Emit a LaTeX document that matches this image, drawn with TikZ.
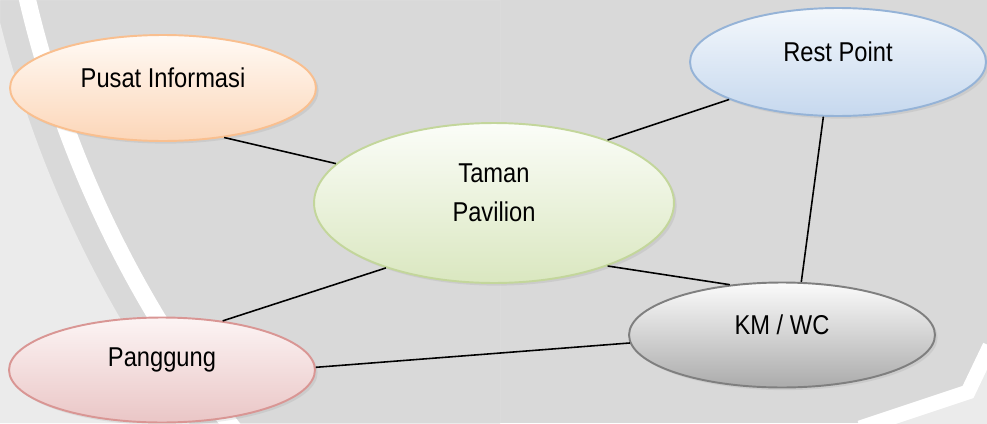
\documentclass[tikz,border=0pt]{standalone}
\usepackage{fontspec}
\setmainfont{Liberation Sans}
\newfontfamily\lblfont[FakeStretch=0.87]{Liberation Sans}
\usetikzlibrary{shapes.geometric,shadows}

\definecolor{bggray}{HTML}{D9D9D9}
\definecolor{wmgray}{HTML}{EBEBEB}
\definecolor{infoline}{HTML}{F9BF8F}
\definecolor{infotop}{HTML}{FFFAF5}
\definecolor{infobot}{HTML}{FCD6B8}
\definecolor{parkline}{HTML}{C3D69B}
\definecolor{parktop}{HTML}{FBFDF8}
\definecolor{parkbot}{HTML}{DAE7C0}
\definecolor{restline}{HTML}{95B3D7}
\definecolor{resttop}{HTML}{F4F8FC}
\definecolor{restbot}{HTML}{C6D8EE}
\definecolor{stageline}{HTML}{D99694}
\definecolor{stagetop}{HTML}{FCF4F4}
\definecolor{stagebot}{HTML}{EAC6C6}
\definecolor{wcline}{HTML}{7F7F7F}
\definecolor{wctop}{HTML}{FBFBFB}
\definecolor{wcbot}{HTML}{ABABAB}

\tikzset{
  area/.style={ellipse,draw,line width=1.1pt,inner sep=0pt,
    minimum width=6.12cm,minimum height=2.12cm,
    drop shadow={opacity=0.15,shadow xshift=1.5pt,shadow yshift=-1.5pt}},
  lbl/.style={font=\lblfont\fontsize{15.5}{22}\selectfont,align=center},
  link/.style={line width=0.9pt}
}

\begin{document}
\begin{tikzpicture}[x=0.02cm,y=-0.02cm]
\useasboundingbox (0,0) rectangle (987,423);
\fill[bggray] (0,0) rectangle (987,423);
% faint seal in the background
\begin{scope}
\clip (0,0) rectangle (500,423);
\fill[wmgray,even odd rule] (0,0) rectangle (500,423) (1111,-256) circle[radius=1145];
\draw[white,line width=0.34cm] (1111,-256) circle[radius=1113];
\end{scope}
\begin{scope}
\clip (600,0) rectangle (987,423);
\fill[wmgray] (987,352) -- (968,392) -- (860,428) -- (987,428) -- cycle;
\draw[white,line width=0.3cm] (990,346) -- (968,392) -- (860,428);
\end{scope}

\node[area,draw=infoline,top color=infotop,bottom color=infobot] (info) at (163,88) {};
\node[area,draw=parkline,top color=parktop,bottom color=parkbot,
  minimum width=7.2cm,minimum height=3.2cm] (park) at (494,203) {};
\node[area,draw=restline,top color=resttop,bottom color=restbot,
  minimum width=5.92cm,minimum height=2.16cm] (rest) at (838,62) {};
\node[area,draw=stageline,top color=stagetop,bottom color=stagebot,
  minimum height=2.1cm] (stage) at (162,370) {};
\node[area,draw=wcline,top color=wctop,bottom color=wcbot,
  minimum height=2.1cm] (wc) at (782,335) {};

\node[lbl] (info-l) at ([yshift=0.2cm]info) {Pusat Informasi};
\node[lbl] (park-l) at ([yshift=0.2cm]park) {Taman\\Pavilion};
\node[lbl] (rest-l) at ([yshift=0.2cm]rest) {Rest Point};
\node[lbl] (stage-l) at ([yshift=0.2cm]stage) {Panggung};
\node[lbl] (wc-l) at ([yshift=0.2cm]wc) {KM / WC};

\draw[link] (info.-39) -- (park.166);
\draw[link] (park.29) -- (rest.-161);
\draw[link] (park.211) -- (stage.39);
\draw[link] (park.-29) -- (wc.136);
\draw[link] (rest.-105) -- (wc.70);
\draw[link] (stage.1) -- (wc.183);
\end{tikzpicture}
\end{document}
